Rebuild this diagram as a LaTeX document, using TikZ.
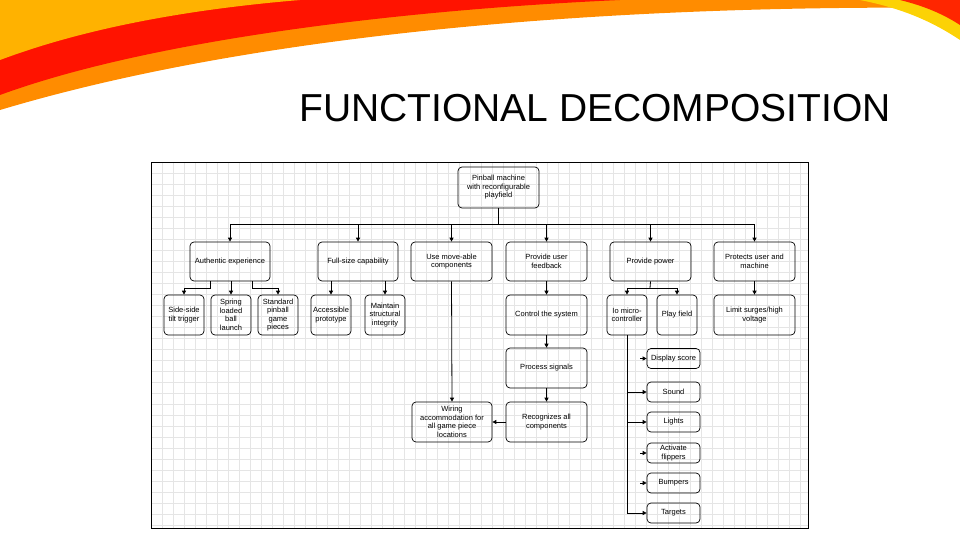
\documentclass[tikz,border=0pt]{standalone}
\usepackage{fontspec}
\setmainfont{Liberation Sans}
\usetikzlibrary{arrows.meta}
\begin{document}
\begin{tikzpicture}[x=1pt,y=-1pt,
  bx/.style={draw,rounded corners=4pt,line width=0.7pt,align=center,font=\fontsize{7.5}{8.5}\selectfont,inner sep=1pt},
  ar/.style={-{Triangle[length=4pt,width=4pt]},line width=0.8pt},
  ln/.style={line width=0.8pt},
  gl/.style={gray!20,line width=0.4pt}]
\useasboundingbox (0,0) rectangle (960,540);
% swoosh
\fill[orange!90!yellow] (0,0) -- (960,0) -- (960,8) .. controls (700,5) and (300,20) .. (0,110) -- cycle;
\fill[red!85!orange] (0,0) -- (620,0) .. controls (400,10) and (150,40) .. (0,95) -- cycle;
\fill[orange!60!yellow] (0,0) -- (300,0) .. controls (180,10) and (80,30) .. (0,60) -- cycle;
\fill[yellow!70!orange] (860,0) -- (960,0) -- (960,40) .. controls (930,20) and (900,8) .. (860,0) -- cycle;
\fill[red!70!orange] (900,0) -- (960,0) -- (960,25) .. controls (940,12) and (920,5) .. (900,0) -- cycle;
\node[font=\fontsize{39}{42}\selectfont,anchor=center] (title) at (595,108) {FUNCTIONAL DECOMPOSITION};
% frame + grid
\foreach \gx in {162,173,...,800} \draw[gl] (\gx,162) -- (\gx,528);
\foreach \gy in {173,184,...,525} \draw[gl] (151,\gy) -- (808,\gy);
\draw[line width=0.8pt] (151,162) rectangle (808,528);
% nodes
\node[bx,minimum width=81,minimum height=41] (root) at (498.5,187.5) {Pinball machine\\with reconfigurable\\playfield};
\node[bx,minimum width=80,minimum height=39] (A) at (230,261.5) {Authentic experience};
\node[bx,minimum width=80,minimum height=39] (F) at (358,261.5) {Full-size capability};
\node[bx,minimum width=81,minimum height=39] (U) at (451.5,261.5) {Use move-able\\components};
\node[bx,minimum width=81,minimum height=39] (P) at (546.5,261.5) {Provide user\\feedback};
\node[bx,minimum width=81,minimum height=39] (W) at (650.5,261.5) {Provide power};
\node[bx,minimum width=81,minimum height=39] (S) at (754.5,261.5) {Protects user and\\machine};
\node[bx,minimum width=40,minimum height=40] (s1) at (184,315) {Side-side\\tilt trigger};
\node[bx,minimum width=40,minimum height=40] (s2) at (231,315) {Spring\\loaded\\ball\\launch};
\node[bx,minimum width=40,minimum height=40] (s3) at (278,315) {Standard\\pinball\\game\\pieces};
\node[bx,minimum width=40,minimum height=40] (f1) at (331,315) {Accessible\\prototype};
\node[bx,minimum width=40,minimum height=40] (f2) at (385,315) {Maintain\\structural\\integrity};
\node[bx,minimum width=81,minimum height=40] (c1) at (546.5,315) {Control the system};
\node[bx,minimum width=40,minimum height=40] (io) at (627,315) {Io micro-\\controller};
\node[bx,minimum width=40,minimum height=40] (pf) at (677,315) {Play field};
\node[bx,minimum width=81,minimum height=40] (lim) at (754.5,315) {Limit surges/high\\voltage};
\node[bx,minimum width=81,minimum height=40] (c2) at (546.5,368) {Process signals};
\node[bx,minimum width=81,minimum height=40] (c3) at (546.5,422) {Recognizes all\\components};
\node[bx,minimum width=80,minimum height=40] (wir) at (452,422) {Wiring\\accommodation for\\all game piece\\locations};
\node[bx,minimum width=53,minimum height=20] (o1) at (673.5,358.5) {Display score};
\node[bx,minimum width=53,minimum height=20] (o2) at (673.5,392) {Sound};
\node[bx,minimum width=53,minimum height=20] (o3) at (673.5,422) {Lights};
\node[bx,minimum width=53,minimum height=20] (o4) at (673.5,453) {Activate\\flippers};
\node[bx,minimum width=53,minimum height=20] (o5) at (673.5,483) {Bumpers};
\node[bx,minimum width=53,minimum height=20] (o6) at (673.5,513) {Targets};
% connectors
\coordinate (bl) at (231,224); \coordinate (br) at (755,224);
\draw[ln] (root) -- (root.south |- bl);
\draw[ln] (bl) -- (br);
\foreach \n in {A,F,U,P,W,S} \draw[ar] (\n.north |- bl) -- (\n.north);
\draw[ar] (A.south -| 210,0) |- (184,288) -- (s1.north);
\draw[ar] (A.south -| s2) -- (s2.north);
\draw[ar] (A.south -| 252,0) |- (278,288) -- (s3.north);
\draw[ar] (F.south -| f1) -- (f1.north);
\draw[ar] (F.south -| f2) -- (f2.north);
\draw[ar] (U.south) -- (wir.north);
\draw[ar] (P.south) -- (c1.north);
\draw[ar] (c1.south) -- (c2.north);
\draw[ar] (c2.south) -- (c3.north);
\draw[ar] (c3.west) -- (wir.east);
\draw[ln] (W.south) -- (650,288);
\draw[ar] (650,288) -| (io.north);
\draw[ar] (650,288) -| (pf.north);
\draw[ar] (S.south) -- (lim.north);
\draw[ln] (io.south) -- (627,513);
\draw[ar] (640,358.5) -- (o1.west);
\draw[ar] (627,392) -- (o2.west);
\draw[ar] (627,422) -- (o3.west);
\draw[ar] (640,453) -- (o4.west);
\draw[ar] (640,483) -- (o5.west);
\draw[ar] (627,513) -- (o6.west);
\end{tikzpicture}
\end{document}
